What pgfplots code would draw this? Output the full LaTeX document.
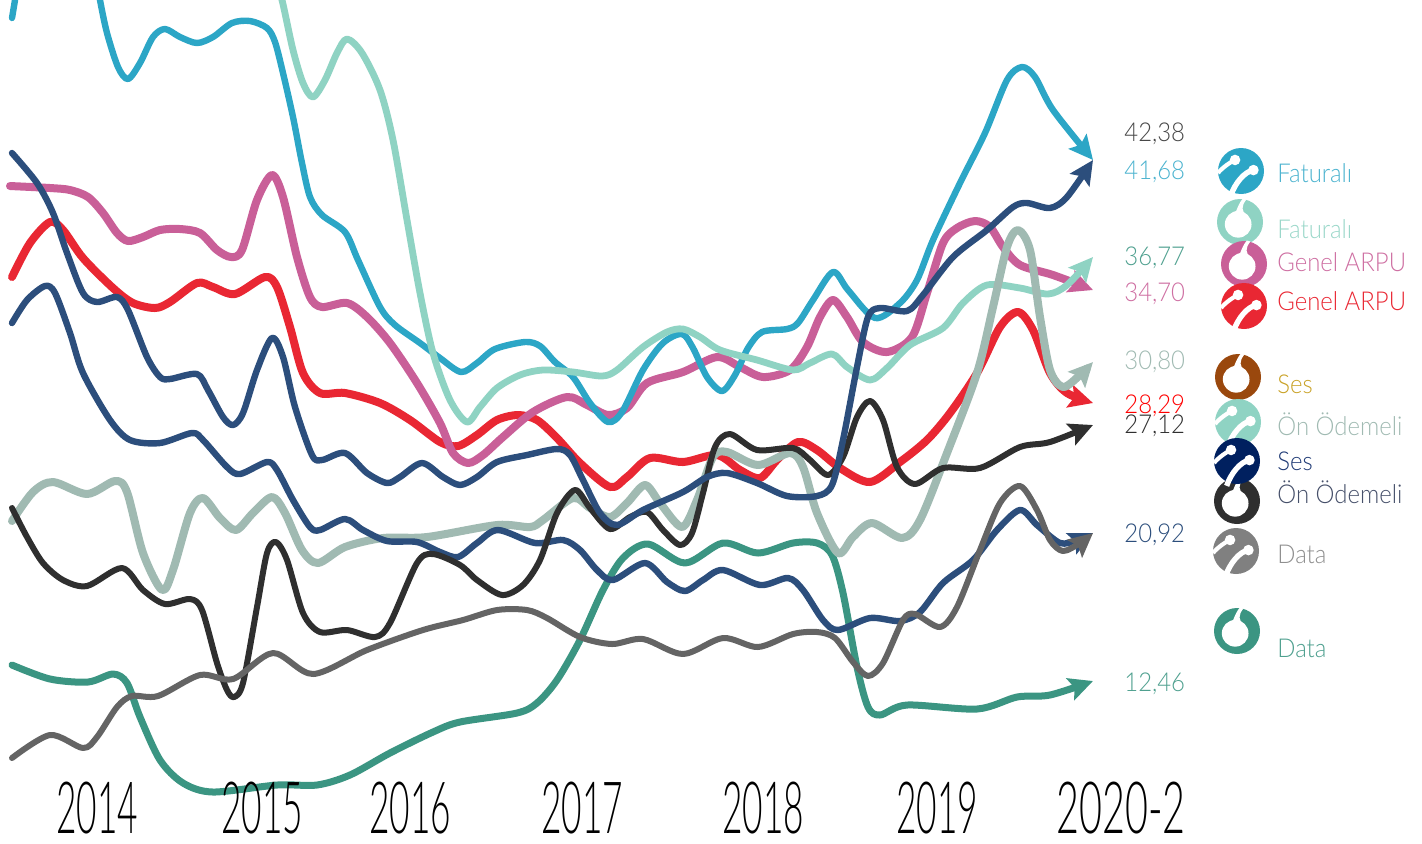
\documentclass[border=0pt]{standalone}
\usepackage{fontspec}
\usepackage{pgfplots}
\pgfplotsset{compat=1.18}
\usetikzlibrary{arrows.meta}
\newfontfamily\lbl{Lato Light}
\newfontfamily\yr{Lato Light}
\definecolor{ccyan}{HTML}{2CA6C6}
\definecolor{cteal}{HTML}{8FD3C3}
\definecolor{cpink}{HTML}{C95F98}
\definecolor{cred}{HTML}{E92733}
\definecolor{cnavy}{HTML}{2C4E7C}
\definecolor{csage}{HTML}{A0BAB2}
\definecolor{cblack}{HTML}{2F2F2F}
\definecolor{cgray}{HTML}{646464}
\definecolor{cgreen}{HTML}{3B9582}
\definecolor{cbrown}{HTML}{9A480D}
\definecolor{cdeep}{HTML}{00205F}
\definecolor{cmid}{HTML}{808080}
\definecolor{tgold}{HTML}{C9A227}
\definecolor{tses}{HTML}{1F3A75}
\definecolor{tpre}{HTML}{46506A}
\definecolor{tdata}{HTML}{8F8F8F}
\tikzset{arr/.style={-{Stealth[length=12pt,width=11.5pt,inset=2.2pt]}}}
% legend icons, radius 23 px; #1 #2 are picture pixels from the top left
\newcommand{\voda}[3]{\begin{scope}[shift={({#1*0.5pt},{(843-#2)*0.5pt})},x=11.5pt,y=11.5pt]
\fill[#3] (0,0) circle (1);
\fill[white] (-0.08,-0.1) circle (0.58);
\fill[white] (0.12,1.02) .. controls (-0.02,0.85) and (-0.1,0.65) .. (-0.2,0.4) -- (0.3,0.3) .. controls (0.05,0.45) and (0.05,0.7) .. (0.28,0.98) -- cycle;
\end{scope}}
\newcommand{\turk}[3]{\begin{scope}[shift={({#1*0.5pt},{(843-#2)*0.5pt})},x=11.5pt,y=11.5pt]
\fill[#3] (0,0) circle (1);
\draw[white,line width=2.1pt] (-1,-0.08) .. controls (-0.75,0.2) and (-0.5,0.35) .. (-0.25,0.5);
\fill[white] (-0.26,0.48) circle (0.23);
\draw[white,line width=2.7pt] (-0.45,-1.08) .. controls (-0.25,-0.5) and (0.15,-0.05) .. (0.52,0.04);
\fill[white] (0.54,0.04) circle (0.23);
\end{scope}}
\begin{document}
\begin{tikzpicture}
\useasboundingbox (0,0) rectangle (711pt,421.5pt);
\begin{axis}[
    at={(0,0)}, anchor=south west,
    scale only axis, width=711pt, height=421.5pt,
    xmin=0, xmax=1422, ymin=0, ymax=843, y dir=reverse,
    hide axis,
    every axis plot/.append style={smooth, no markers, line cap=round, line join=round},
]
% Data, Vodafone
\addplot[cgreen, line width=3.5pt, arr] coordinates {
(12,665) (50,679) (88,682) (113,674) (127,683) (140,717) (160,760) (183,783) (213,792) (277,785) (317,785) (350,775) (390,753) (433,732) (460,722) (517,713) (537,703) (557,680) (580,640) (603,590) (623,558) (648,544) (685,563) (723,543) (758,553) (793,543) (817,543) (832,555) (843,593) (857,667) (868,707) (880,715) (907,705) (977,709) (1017,697) (1050,695) (1093,681)
};
% Genel ARPU, Turkcell
\addplot[cred, line width=4pt, arr] coordinates {
(12,277) (30,243) (50,222) (63,230) (83,258) (113,288) (133,303) (155,308) (170,302) (197,283) (213,287) (235,294) (265,277) (277,287) (290,327) (303,373) (320,393) (345,393) (380,403) (410,420) (440,442) (458,446) (477,435) (497,420) (518,415) (537,420) (557,438) (580,463) (610,487) (627,477) (650,458) (683,462) (717,455) (740,470) (760,478) (777,460) (798,442) (817,450) (840,468) (870,482) (900,462) (927,440) (950,413) (977,373) (1000,327) (1018,312) (1033,330) (1050,373) (1067,393) (1093,403)
};
% Genel ARPU, Vodafone
\addplot[cpink, line width=4pt, arr] coordinates {
(10,186) (50,188) (70,190) (88,197) (103,213) (117,233) (128,241) (143,237) (160,230) (180,229) (200,233) (217,250) (231,257) (242,250) (257,200) (272,175) (283,197) (297,257) (310,297) (322,307) (347,303) (367,317) (390,343) (417,383) (440,423) (453,453) (468,463) (483,455) (503,437) (533,412) (567,397) (587,405) (608,415) (627,408) (647,383) (683,372) (717,357) (740,367) (763,377) (790,370) (807,347) (820,317) (833,300) (847,317) (863,342) (887,352) (912,337) (927,293) (943,243) (957,228) (975,221) (990,227) (1003,247) (1020,265) (1053,275) (1093,290)
};
% Faturali, Turkcell (runs off the top at the start)
\addplot[ccyan, line width=3.2pt, forget plot] coordinates {
(12,18) (15,0) (18,-20)
};
\addplot[ccyan, line width=3.2pt, arr] coordinates {
(97,-20) (100,0) (107,33) (118,67) (128,79) (140,63) (153,37) (165,29) (180,37) (197,43) (213,37) (232,23) (250,21) (267,28) (275,42) (283,73) (293,117) (302,163) (310,197) (322,215) (345,232) (358,260) (380,307) (395,325) (420,343) (440,358) (461,372) (477,363) (495,349) (525,342) (540,346) (555,362) (573,377) (590,403) (608,422) (622,412) (643,370) (663,343) (682,334) (693,348) (707,377) (722,391) (735,375) (748,348) (762,332) (787,329) (798,323) (813,300) (833,272) (848,290) (875,318) (900,303) (917,280) (933,240) (960,183) (985,133) (1007,80) (1022,67) (1035,77) (1053,110) (1093,160)
};
% Faturali, Vodafone
\addplot[cteal, line width=3.4pt, arr] coordinates {
(275,-20) (282,0) (293,50) (303,83) (313,97) (325,80) (337,53) (347,39) (362,53) (380,90) (393,140) (407,220) (420,293) (433,353) (450,400) (467,422) (480,407) (497,388) (520,375) (543,370) (573,372) (602,376) (617,370) (643,347) (667,332) (683,329) (700,337) (720,350) (757,360) (793,370) (810,363) (832,354) (847,367) (870,380) (887,368) (910,345) (943,328) (963,303) (987,285) (1020,288) (1048,294) (1067,285) (1093,257)
};
% On Odemeli, Vodafone side
\addplot[csage, line width=4pt, arr] coordinates {
(12,521) (33,492) (53,482) (87,494) (115,481) (127,492) (143,553) (162,590) (173,570) (190,513) (203,498) (220,518) (236,530) (253,513) (272,497) (285,513) (302,550) (318,563) (345,547) (383,538) (427,537) (497,525) (530,527) (543,520) (573,498) (590,508) (610,517) (627,503) (645,485) (660,503) (682,527) (697,500) (713,457) (727,452) (758,465) (790,453) (803,467) (817,513) (838,553) (853,537) (872,523) (902,538) (920,520) (947,453) (977,373) (993,307) (1007,247) (1018,230) (1030,250) (1040,317) (1050,370) (1063,387) (1080,375) (1093,362)
};
% Ses, second navy
\addplot[cnavy, line width=3.2pt, arr] coordinates {
(12,323) (27,300) (45,286) (55,293) (70,333) (83,373) (110,420) (130,440) (160,443) (192,433) (203,440) (227,467) (240,474) (267,462) (277,470) (293,500) (310,527) (320,530) (345,519) (363,530) (387,541) (417,542) (440,552) (458,557) (477,543) (498,530) (535,543) (563,540) (580,550) (597,570) (613,580) (645,563) (667,582) (685,591) (703,580) (723,570) (760,585) (788,578) (803,590) (823,620) (838,630) (870,618) (900,621) (920,612) (943,583) (973,560) (997,530) (1020,510) (1037,525) (1060,543) (1077,540) (1093,533)
};
% Black
\addplot[cblack, line width=3pt, arr] coordinates {
(12,508) (27,537) (43,563) (63,580) (87,586) (122,568) (143,590) (165,604) (190,599) (202,610) (217,663) (227,690) (234,697) (243,683) (257,607) (267,553) (276,542) (287,560) (303,613) (320,632) (347,630) (375,637) (390,623) (417,563) (433,554) (460,565) (477,580) (502,595) (523,585) (540,560) (557,513) (575,490) (590,508) (610,529) (630,517) (647,512) (663,530) (680,545) (692,533) (703,493) (715,447) (730,434) (757,450) (793,448) (810,460) (828,475) (843,457) (857,417) (870,401) (883,420) (897,467) (915,484) (943,468) (980,468) (1020,447) (1050,442) (1093,425)
};
% Gray
\addplot[cgray, line width=3pt, arr] coordinates {
(12,758) (50,735) (83,748) (97,737) (117,707) (132,696) (158,696) (200,675) (233,679) (273,653) (313,674) (367,650) (423,630) (463,620) (497,610) (527,610) (547,618) (580,637) (612,644) (643,639) (683,654) (723,638) (758,647) (793,634) (817,632) (835,638) (853,662) (868,676) (883,663) (903,620) (915,614) (940,627) (957,607) (980,550) (1000,503) (1020,486) (1037,510) (1050,540) (1063,551) (1080,543) (1093,533)
};
% Ses, navy with the jump at 2018
\addplot[cnavy, line width=3.2pt, arr] coordinates {
(12,153) (37,183) (53,213) (67,253) (83,293) (97,302) (117,297) (128,310) (147,357) (160,377) (170,379) (197,374) (208,390) (223,417) (233,425) (243,413) (257,370) (272,338) (283,357) (295,407) (312,455) (322,460) (345,453) (367,473) (387,483) (400,477) (422,463) (443,477) (460,485) (477,477) (497,462) (527,455) (557,449) (570,455) (583,480) (600,513) (617,525) (643,510) (683,492) (707,477) (727,473) (757,483) (787,496) (817,496) (832,485) (843,440) (857,367) (868,317) (880,308) (907,311) (923,295) (953,257) (987,230) (1013,207) (1027,203) (1050,208) (1067,197) (1093,160)
};
% end values
\begin{scope}[every node/.style={anchor=base west,inner sep=0pt,xscale=0.92,font=\lbl\fontsize{13pt}{14pt}\selectfont}]
\node[text=black!72] at (axis cs:1124,141) {42,38};
\node[text=ccyan!85] at (axis cs:1124,179) {41,68};
\node[text=cgreen!90] at (axis cs:1124,265) {36,77};
\node[text=cpink!90] at (axis cs:1124,301) {34,70};
\node[text=csage] at (axis cs:1124,369) {30,80};
\node[text=red] at (axis cs:1124,413) {28,29};
\node[text=cblack] at (axis cs:1124,433) {27,12};
\node[text=cnavy] at (axis cs:1124,542) {20,92};
\node[text=cgreen!90] at (axis cs:1124,691) {12,46};
\end{scope}
% legend text
\begin{scope}[every node/.style={anchor=base west,inner sep=0pt,xscale=0.92,font=\lbl\fontsize{13pt}{14pt}\selectfont}]
\node[text=ccyan!85] at (axis cs:1277,182) {Faturalı};
\node[text=cteal!90] at (axis cs:1277,238) {Faturalı};
\node[text=cpink!90] at (axis cs:1277,271) {Genel ARPU};
\node[text=cred] at (axis cs:1277,310) {Genel ARPU};
\node[text=tgold] at (axis cs:1277,393) {Ses};
\node[text=csage] at (axis cs:1277,435) {Ön Ödemeli};
\node[text=tses] at (axis cs:1277,470) {Ses};
\node[text=tpre] at (axis cs:1277,503) {Ön Ödemeli};
\node[text=tdata] at (axis cs:1277,563) {Data};
\node[text=cgreen!90] at (axis cs:1277,657) {Data};
\end{scope}
% years
\begin{scope}[every node/.style={anchor=base,inner sep=0pt,text depth=0pt,xscale=0.49,font=\yr\fontsize{36pt}{38pt}\selectfont}]
\node at (axis cs:97,833) {2014};
\node at (axis cs:262,833) {2015};
\node at (axis cs:410,833) {2016};
\node at (axis cs:582,833) {2017};
\node at (axis cs:763,833) {2018};
\node at (axis cs:937,833) {2019};
\node[xscale=1.12] at (axis cs:1121,833) {2020-2};
\end{scope}
\end{axis}
% legend icons
\turk{1241}{171}{ccyan}
\voda{1240}{222}{cteal}
\voda{1244}{264}{cpink}
\turk{1244}{306}{cred}
\voda{1238}{377}{cbrown}
\turk{1238}{422}{cteal}
\voda{1237}{501}{cblack}
\turk{1237}{461}{cdeep}
\turk{1236}{551}{cmid}
\voda{1237}{631}{cgreen}
\end{tikzpicture}
\end{document}
